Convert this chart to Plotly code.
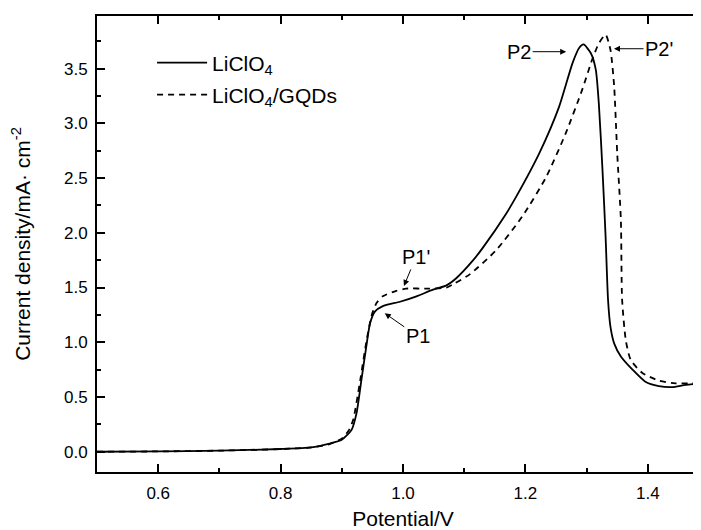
import plotly.graph_objects as go

# LSV curves
pot_liclo4 = [0.50, 0.60, 0.70, 0.80, 0.85, 0.88, 0.90, 0.916, 0.924, 0.932, 0.940, 0.946,
              0.954, 0.967, 0.995, 1.022, 1.049, 1.071, 1.087, 1.114, 1.130, 1.168, 1.185,
              1.223, 1.255, 1.277, 1.288, 1.295, 1.307, 1.315, 1.320, 1.326, 1.331, 1.335,
              1.339, 1.345, 1.356, 1.375, 1.396, 1.418, 1.440, 1.462, 1.50]
cur_liclo4 = [0.0, 0.003, 0.01, 0.025, 0.04, 0.075, 0.11, 0.20, 0.35, 0.655, 0.96, 1.17,
              1.28, 1.33, 1.37, 1.42, 1.48, 1.52, 1.585, 1.745, 1.86, 2.17, 2.33,
              2.73, 3.15, 3.55, 3.69, 3.72, 3.64, 3.49, 3.18, 2.57, 1.97, 1.39,
              1.14, 0.99, 0.87, 0.75, 0.64, 0.60, 0.59, 0.61, 0.63]

pot_gqds = [0.50, 0.60, 0.70, 0.80, 0.85, 0.88, 0.90, 0.912, 0.919, 0.930, 0.940, 0.949,
            0.957, 0.967, 0.989, 1.005, 1.040, 1.071, 1.085, 1.109, 1.152, 1.195, 1.234,
            1.266, 1.293, 1.309, 1.320, 1.331, 1.339, 1.345, 1.350, 1.356, 1.358, 1.364,
            1.372, 1.391, 1.418, 1.445, 1.50]
cur_gqds = [0.0, 0.003, 0.01, 0.024, 0.04, 0.07, 0.12, 0.20, 0.30, 0.65, 1.0, 1.25,
            1.36, 1.42, 1.47, 1.49, 1.49, 1.50, 1.54, 1.62, 1.84, 2.15, 2.51,
            2.91, 3.31, 3.58, 3.73, 3.81, 3.67, 3.34, 2.73, 2.12, 1.39, 1.02,
            0.84, 0.72, 0.65, 0.625, 0.63]

# peak labels: (text, x, y of arrow head, text offset in px)
peak_labels = [
    ("P2", 1.2666, 3.654, -47, 0),
    ("P2'", 1.3448, 3.681, 45, 0),
    ("P1'", 1.0016, 1.515, 12, -29),
    ("P1", 0.9702, 1.265, 33, 23),
]

FONT = "Arial, Liberation Sans, sans-serif"

fig = go.Figure()
fig.add_scatter(x=pot_liclo4, y=cur_liclo4, mode="lines", name="LiClO<sub>4</sub>",
                legend="legend", showlegend=True,
                line=dict(color="black", width=1.8, shape="spline", smoothing=0.6))
fig.add_scatter(x=pot_gqds, y=cur_gqds, mode="lines", name="LiClO<sub>4</sub>/GQDs",
                legend="legend2", showlegend=True,
                line=dict(color="black", width=1.8, dash="6px,5px",
                          shape="spline", smoothing=0.6))

for txt, x, y, ax, ay in peak_labels:
    fig.add_annotation(x=x, y=y, text=txt, showarrow=True, ax=ax, ay=ay,
                       arrowhead=2, arrowsize=1.2, arrowwidth=1, arrowcolor="black",
                       font=dict(size=20, color="black", family=FONT))

axis_common = dict(
    showline=True, linecolor="black", linewidth=2,
    ticks="inside", ticklen=8, tickwidth=1.5, tickcolor="black",
    showgrid=False, zeroline=False, automargin=False,
    tickfont=dict(size=17, color="black", family=FONT),
)

fig.update_xaxes(**axis_common, range=[0.5, 1.5], dtick=0.2, tick0=0.6,
                 tickformat=".1f", mirror="ticks", ticklabelstandoff=5,
                 minor=dict(ticks="inside", ticklen=4, dtick=0.1, tickcolor="black",
                            tickwidth=1.5),
                 title=dict(text="Potential/V", font=dict(size=21, family=FONT, color="black"),
                            standoff=9))
fig.update_yaxes(**axis_common, range=[-0.185, 3.98], dtick=0.5, tick0=0,
                 tickformat=".1f", ticklabelstandoff=4,
                 minor=dict(ticks="inside", ticklen=4, dtick=0.25, tickcolor="black",
                            tickwidth=1.5),
                 title=dict(text="Current density/mA· cm<sup>-2</sup>",
                            font=dict(size=21, family=FONT, color="black"), standoff=33))

legend_style = dict(x=0.09, xanchor="left", yanchor="middle", itemwidth=50,
                    bgcolor="rgba(0,0,0,0)",
                    font=dict(size=21, family=FONT, color="black"))

# the page adds an 8px body margin, so the figure sits 8px right and down
fig.update_layout(
    width=701, height=530,
    margin=dict(l=89, r=0, t=8, b=66),
    plot_bgcolor="white", paper_bgcolor="white",
    showlegend=True,
    legend=dict(**legend_style, y=0.897),
    legend2=dict(**legend_style, y=0.827),
)

fig.write_html("out.html")
